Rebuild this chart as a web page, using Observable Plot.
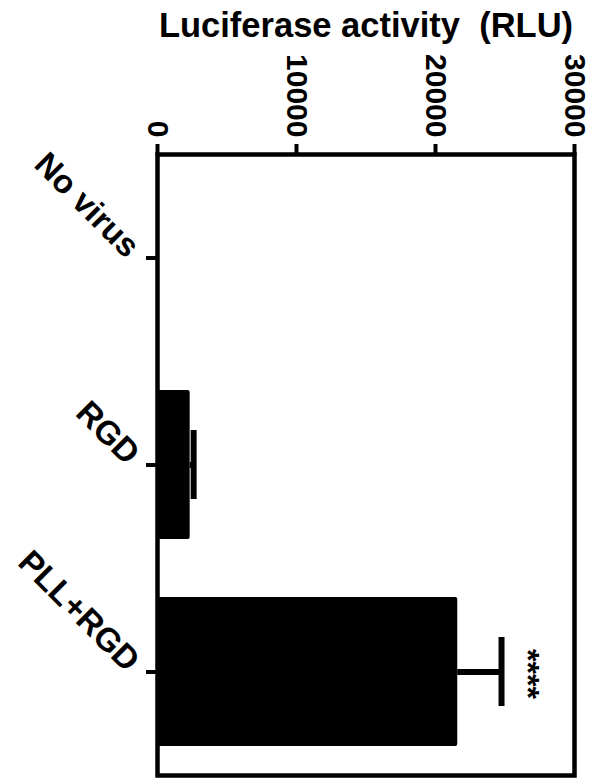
<!DOCTYPE html>
<html>
<head>
<meta charset="utf-8">
<script src="https://cdn.jsdelivr.net/npm/d3@7"></script>
<script src="https://cdn.jsdelivr.net/npm/@observablehq/plot@0.6"></script>
<style>
  html, body { margin: 0; padding: 0; background: #fff; }
  svg { display: block; }
</style>
</head>
<body>
<div id="chart"></div>
<script>
const categories = ["No virus", "RGD", "PLL+RGD"];
const means = [0, 2350, 21600];
const errorTops = [0, 2600, 24750];
const xTicks = [0, 10000, 20000, 30000];
const xTickLabels = ["0", "10000", "20000", "30000"];
const significance = ["", "", "****"];
const title = "Luciferase activity  (RLU)";

const bars = categories.map((c, i) => ({category: c, mean: means[i], top: errorTops[i], sig: significance[i]}));
const withErr = bars.filter(d => d.top > d.mean);
const font = "'Liberation Sans', Arial, Helvetica, sans-serif";

const chart = Plot.plot({
  width: 599,
  height: 778,
  marginLeft: 157,
  marginRight: 25,
  marginTop: 154,
  marginBottom: 3,
  style: {fontFamily: font, background: "#fff", overflow: "visible"},
  x: {domain: [0, 30000], axis: null},
  y: {domain: categories, axis: null, paddingInner: 0.28, paddingOuter: 0.14},
  marks: [
    Plot.barX(bars, {x: "mean", y: "category", fill: "#000", rx: 2}),
    Plot.ruleY(withErr, {y: "category", x1: "mean", x2: "top", stroke: "#000", strokeWidth: 6}),
    Plot.tickX(withErr, {x: "top", y: "category", stroke: "#000", strokeWidth: 6, insetTop: 40, insetBottom: 40}),
    Plot.text(withErr.filter(d => d.sig), {x: "top", y: "category", text: "sig", rotate: 90, dx: 26, dy: 2, fontSize: 32, fontWeight: "bold", fill: "#000", textAnchor: "middle", lineAnchor: "middle"}),
    Plot.frame({stroke: "#000", strokeWidth: 4.5}),
    Plot.axisX({anchor: "top", ticks: xTicks, tickSize: 11, strokeWidth: 4, tickFormat: () => "", label: null}),
    Plot.axisY({anchor: "left", tickSize: 11, strokeWidth: 4, tickFormat: () => "", label: null}),
    Plot.text(xTicks, {x: d => d, text: (d, i) => xTickLabels[i], frameAnchor: "top", dy: -17, rotate: 90, textAnchor: "end", lineAnchor: "middle", fontSize: 30, fontWeight: "bold", fill: "#000"}),
    Plot.text(categories, {y: d => d, text: d => d, frameAnchor: "left", dx: -24, dy: -6, rotate: 45, textAnchor: "end", lineAnchor: "middle", fontSize: 33, fontWeight: "bold", fill: "#000"}),
    Plot.text([title], {text: d => d, frameAnchor: "top", dy: -129, lineAnchor: "middle", textAnchor: "middle", fontSize: 34.5, fontWeight: "bold", fill: "#000"})
  ]
});
document.getElementById("chart").appendChild(chart);
</script>
</body>
</html>
